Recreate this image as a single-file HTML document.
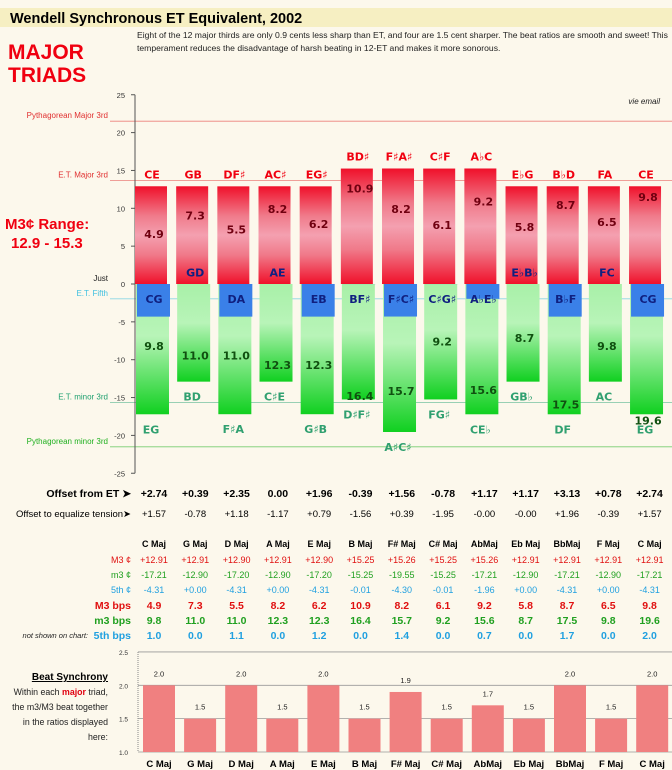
<!DOCTYPE html>
<html><head><meta charset="utf-8"><style>
body{margin:0;width:672px;height:770px;background:#fcf8ec;overflow:hidden;font-family:"Liberation Sans",sans-serif}
svg{position:absolute;left:0;top:0}
</style></head><body>
<svg id="c" width="672" height="770">
<defs>
<linearGradient id="gr" x1="0" y1="0" x2="0" y2="1">
<stop offset="0" stop-color="#f0102a"/><stop offset="0.3" stop-color="#f07a8a"/><stop offset="0.5" stop-color="#f4a0b0"/><stop offset="0.7" stop-color="#f07a8a"/><stop offset="1" stop-color="#f0102a"/></linearGradient>
<linearGradient id="gg" x1="0" y1="0" x2="0" y2="1">
<stop offset="0" stop-color="#a8f0a8"/><stop offset="0.4" stop-color="#b8f4b8"/><stop offset="1" stop-color="#10d020"/></linearGradient>
</defs>
<rect x="0" y="8" width="672" height="19" fill="#f6efc2"/>
<text x="10" y="23" font-size="14.5" font-weight="bold" fill="#000">Wendell Synchronous ET Equivalent, 2002</text>
<text x="137" y="38" font-size="8.6" fill="#222">Eight of the 12 major thirds are only 0.9 cents less sharp than ET, and four are 1.5 cent sharper. The beat ratios are smooth and sweet! This</text>
<text x="137" y="51" font-size="8.6" fill="#222">temperament reduces the disadvantage of harsh beating in 12-ET and makes it more sonorous.</text>
<text x="8" y="59" font-size="21" font-weight="bold" fill="#f00010">MAJOR</text>
<text x="8" y="82" font-size="21" font-weight="bold" fill="#f00010">TRIADS</text>
<text x="5" y="229" font-size="15" font-weight="bold" fill="#f00010">M3¢ Range:</text>
<text x="11" y="248" font-size="15" font-weight="bold" fill="#f00010">12.9 - 15.3</text>
<text x="660" y="104" font-size="8" font-style="italic" fill="#222" text-anchor="end">vie email</text>
<g id="g"></g>
</svg>
<script>
const majorPairs=["CE","GB","DF♯","AC♯","EG♯","BD♯","F♯A♯","C♯F","A♭C","E♭G","B♭D","FA","CE"];
const fifthPairs=["CG","GD","DA","AE","EB","BF♯","F♯C♯","C♯G♯","A♭E♭","E♭B♭","B♭F","FC","CG"];
const minorPairs=["EG","BD","F♯A","C♯E","G♯B","D♯F♯","A♯C♯","FG♯","CE♭","GB♭","DF","AC","EG"];
const triads=["C Maj","G Maj","D Maj","A Maj","E Maj","B Maj","F# Maj","C# Maj","AbMaj","Eb Maj","BbMaj","F Maj","C Maj"];
const M3c=[12.91,12.91,12.90,12.91,12.90,15.25,15.26,15.25,15.26,12.91,12.91,12.91,12.91];
const m3c=[-17.21,-12.90,-17.20,-12.90,-17.20,-15.25,-19.55,-15.25,-17.21,-12.90,-17.21,-12.90,-17.21];
const f5c=[-4.31,0.00,-4.31,0.00,-4.31,-0.01,-4.30,-0.01,-1.96,0.00,-4.31,0.00,-4.31];
const M3bps=[4.9,7.3,5.5,8.2,6.2,10.9,8.2,6.1,9.2,5.8,8.7,6.5,9.8];
const m3bps=[9.8,11.0,11.0,12.3,12.3,16.4,15.7,9.2,15.6,8.7,17.5,9.8,19.6];
const f5bps=[1.0,0.0,1.1,0.0,1.2,0.0,1.4,0.0,0.7,0.0,1.7,0.0,2.0];
const offsetET=["+2.74","+0.39","+2.35","0.00","+1.96","-0.39","+1.56","-0.78","+1.17","+1.17","+3.13","+0.78","+2.74"];
const offsetEq=["+1.57","-0.78","+1.18","-1.17","+0.79","-1.56","+0.39","-1.95","-0.00","-0.00","+1.96","-0.39","+1.57"];
const ratio=[2.0,1.5,2.0,1.5,2.0,1.5,1.9,1.5,1.7,1.5,2.0,1.5,2.0];
const yTicks=[25,20,15,10,5,0,-5,-10,-15,-20,-25];
const refVals=[21.51,13.69,-1.96,-15.64,-21.51];
const refNames=["Pythagorean Major 3rd","E.T. Major 3rd","E.T. Fifth","E.T. minor 3rd","Pythagorean minor 3rd"];
const refColors=["#e03030","#e03030","#40c0e0","#20a070","#20b020"];
const rTicks=[2.5,2.0,1.5,1.0];

const NS="http://www.w3.org/2000/svg";
const G=document.getElementById('g');
function el(t,a,txt){const e=document.createElementNS(NS,t);for(const k in a)e.setAttribute(k,a[k]);if(txt!=null)e.textContent=txt;G.appendChild(e);return e;}
const y=v=>284-v*7.57;
const xb=i=>135+i*41.17;
const yr=v=>752-(v-1)*66.7;
const xr=i=>143+i*41.1;

refVals.forEach((v,i)=>{
 let e=el('line',{x1:110,x2:672,y1:y(v),y2:y(v),stroke:refColors[i],'stroke-width':0.8,'stroke-opacity':0.6});
 
 e=el('text',{x:108,y:y(v)-3,'font-size':8,fill:refColors[i],'text-anchor':'end'},refNames[i]);
 
});
let j=el('text',{x:108,y:y(0)-3,'font-size':8,fill:'#222','text-anchor':'end'},'Just');

let a=el('line',{x1:135,x2:135,y1:y(25),y2:y(-25),stroke:'#555','stroke-width':1});

yTicks.forEach(t=>{
 let e=el('line',{x1:131,x2:135,y1:y(t),y2:y(t),stroke:'#555'});
 
 e=el('text',{x:125,y:y(t)+3,'font-size':7.5,fill:'#333','text-anchor':'end'},t);
 
});
const bf='"DejaVu Sans",sans-serif';
M3bps.forEach((_,i)=>{
 const x=xb(i);
 let e=el('rect',{x:x,y:y(M3c[i]),width:32,height:y(0)-y(M3c[i]),fill:'url(#gr)'});
 
 e=el('rect',{x:x+1,y:y(0),width:33,height:y(m3c[i])-y(0),fill:'url(#gg)'});
 
 if(f5c[i]<-0.005){e=el('rect',{x:x+2,y:y(0),width:33,height:y(f5c[i])-y(0),fill:'#3a80e8'});
 }
 const cx=x+19;
 e=el('text',{x:cx-2,y:y(M3c[i])-8,'font-size':11,'font-weight':'bold',fill:'#f00010','text-anchor':'middle','font-family':bf},majorPairs[i]);
 
 e=el('text',{x:cx,y:y(M3bps[i])-9,'font-size':11,'font-weight':'bold',fill:'#700010','text-anchor':'middle','font-family':bf},M3bps[i].toFixed(1));
 
 e=el('text',{x:cx,y:y(-m3bps[i])-8,'font-size':11,'font-weight':'bold',fill:'#105010','text-anchor':'middle','font-family':bf},m3bps[i].toFixed(1));
 
 e=el('text',{x:cx,y:Math.abs(f5c[i])>0.005?y(-2)+4:y(1.5)+4,'font-size':11,'font-weight':'bold',fill:'#102080','text-anchor':'middle','font-family':bf},fifthPairs[i]);
 
 e=el('text',{x:cx-3,y:y(m3c[i])+19,'font-size':11,'font-weight':'bold',fill:'#30a070','text-anchor':'middle','font-family':bf},minorPairs[i]);
 
});
const cxT=i=>154+i*41.3;
function row(lbl,vals,yy,col,fs,bold,lcol,name){
 let e=el('text',{x:131,y:yy,'font-size':fs,fill:lcol||col,'text-anchor':'end','font-weight':bold?'bold':'normal'},lbl);
 
 vals.forEach((v,i)=>{let t=el('text',{x:cxT(i),y:yy,'font-size':fs,fill:col,'text-anchor':'middle','font-weight':bold?'bold':'normal'},v);
 });
}
row('Offset from ET ➤',offsetET,497,'#000',10.5,true,null,'offset-from-et');
row('Offset to equalize tension➤',offsetEq,517,'#000',9.5,false,null,'offset-equalize');
row('',triads,547,'#000',9,true,null,'triad-header');
row('M3 ¢',M3c.map(v=>'+'+v.toFixed(2)),563,'#e01010',9,false,null,'m3-major-cents');
row('m3 ¢',m3c.map(v=>v.toFixed(2)),578,'#20a020',9,false,null,'m3-minor-cents');
row('5th ¢',f5c.map(v=>(v>=0?'+':'')+v.toFixed(2)),593,'#20a0e0',9,false,null,'fifth-cents');
row('M3 bps',M3bps.map(v=>v.toFixed(1)),609,'#e01010',10.5,true,null,'major-bps');
row('m3 bps',m3bps.map(v=>v.toFixed(1)),624,'#20a020',10.5,true,null,'minor-bps');
row('5th bps',f5bps.map(v=>v.toFixed(1)),639,'#20a0e0',10.5,true,null,'fifth-bps');
let n=el('text',{x:88,y:638,'font-size':7.5,'font-style':'italic',fill:'#222','text-anchor':'end'},'not shown on chart:');

rTicks.forEach(t=>{
 let e=el('line',{x1:138,x2:672,y1:yr(t),y2:yr(t),stroke:'#999','stroke-width':0.8});
 
 e=el('text',{x:128,y:yr(t)+3,'font-size':6.5,fill:'#333','text-anchor':'end'},t.toFixed(1));
 
});
let ax=el('line',{x1:138,x2:138,y1:yr(2.5),y2:yr(1),stroke:'#888','stroke-dasharray':'1,1'});

ratio.forEach((v,i)=>{
 let e=el('rect',{x:xr(i),y:yr(v),width:32,height:yr(1)-yr(v),fill:'#f08080'});
 
 e=el('text',{x:xr(i)+16,y:yr(v)-9,'font-size':7.5,fill:'#222','text-anchor':'middle'},v.toFixed(1));
 
 e=el('text',{x:xr(i)+16,y:767,'font-size':9.5,'font-weight':'bold',fill:'#000','text-anchor':'middle'},triads[i]);
 
});
let b=el('text',{x:108,y:680,'font-size':10,'font-weight':'bold',fill:'#000','text-anchor':'end','text-decoration':'underline'},'Beat Synchrony');

const lines=['the m3/M3 beat together','in the ratios displayed','here:'];
let l1=el('text',{x:108,y:695,'font-size':8.8,fill:'#222','text-anchor':'end'});

l1.innerHTML='Within each <tspan fill="#e00010" font-weight="bold">major</tspan> triad,';
lines.forEach((s,i)=>{let e=el('text',{x:108,y:710+i*15,'font-size':8.8,fill:'#222','text-anchor':'end'},s);
 });
</script>
</body></html>
